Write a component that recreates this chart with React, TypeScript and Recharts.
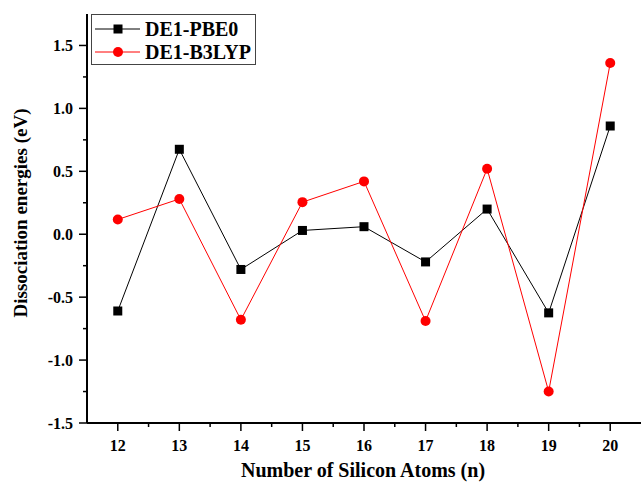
import React from "react";
import { LineChart, Line, XAxis, YAxis, Legend, Label } from "recharts";

const nAtoms = [12, 13, 14, 15, 16, 17, 18, 19, 20];
const de1PBE0 = [-0.61, 0.675, -0.28, 0.03, 0.06, -0.22, 0.2, -0.625, 0.86];
const de1B3LYP = [0.117, 0.28, -0.68, 0.255, 0.42, -0.69, 0.52, -1.25, 1.36];
const xTicks = [12, 12.5, 13, 13.5, 14, 14.5, 15, 15.5, 16, 16.5, 17, 17.5, 18, 18.5, 19, 19.5, 20];
const yTicks = [-1.5, -1.25, -1.0, -0.75, -0.5, -0.25, 0, 0.25, 0.5, 0.75, 1.0, 1.25, 1.5];
const seriesNames = ["DE1-PBE0", "DE1-B3LYP"];
const xTitle = "Number of Silicon Atoms (n)";
const yTitle = "Dissociation energies (eV)";

const data = nAtoms.map((n, i) => ({ n, pbe0: de1PBE0[i], b3lyp: de1B3LYP[i] }));

const FONT = '"Liberation Serif", "Times New Roman", serif';
const W = 641;
const H = 484;
const AXIS_X = 87;
const AXIS_Y = 423;
const TOP = 14;

const XTick = (props: any) => {
  const { x, payload } = props;
  const v = payload.value;
  const major = Number.isInteger(v);
  return (
    <g>
      <line x1={x} x2={x} y1={AXIS_Y} y2={AXIS_Y + (major ? 8 : 4)} stroke="#000" strokeWidth={1.5} />
      {major && (
        <text x={x} y={445} textAnchor="middle" dominantBaseline="central" fontFamily={FONT} fontWeight="bold" fontSize={16} fill="#000">
          {v}
        </text>
      )}
    </g>
  );
};

const YTick = (props: any) => {
  const { y, payload } = props;
  const v = payload.value;
  const major = Math.abs(v * 2 - Math.round(v * 2)) < 1e-9;
  return (
    <g>
      <line x1={AXIS_X - (major ? 8 : 4)} x2={AXIS_X} y1={y} y2={y} stroke="#000" strokeWidth={1.5} />
      {major && (
        <text x={73} y={y} textAnchor="end" dominantBaseline="central" fontFamily={FONT} fontWeight="bold" fontSize={16} fill="#000">
          {v.toFixed(1)}
        </text>
      )}
    </g>
  );
};

const SquareDot = (props: any) => {
  const { cx, cy, index } = props;
  if (cx == null || cy == null) return <g key={`s${index}`} />;
  return <rect key={`s${index}`} x={cx - 4.5} y={cy - 4.5} width={9} height={9} fill="#000" />;
};

const CircleDot = (props: any) => {
  const { cx, cy, index } = props;
  if (cx == null || cy == null) return <g key={`c${index}`} />;
  return <circle key={`c${index}`} cx={cx} cy={cy} r={5} fill="#ff0000" />;
};

const LegendContent = () => (
  <div
    style={{
      border: "1px solid #444",
      background: "#fff",
      width: 163,
      height: 49,
      position: "relative",
      fontFamily: FONT,
      fontWeight: "bold",
      fontSize: 20,
      color: "#000",
    }}
  >
    {seriesNames.map((name, i) => (
      <div key={name} style={{ position: "absolute", left: 0, top: i === 0 ? 3 : 26, height: 22, display: "flex", alignItems: "center", whiteSpace: "nowrap" }}>
        <svg width={53} height={22} style={{ display: "block" }}>
          <line x1={3} x2={48} y1={11} y2={11} stroke={i === 0 ? "#000" : "#ff0000"} strokeWidth={1} />
          {i === 0 ? <rect x={21.5} y={6.5} width={9} height={9} fill="#000" /> : <circle cx={26} cy={11} r={5} fill="#ff0000" />}
        </svg>
        <span style={{ lineHeight: "22px" }}>{name}</span>
      </div>
    ))}
  </div>
);

export default function App() {
  return (
    <div style={{ position: "absolute", left: 0, top: 0, width: W, height: H, background: "#fff" }}>
      <LineChart width={W} height={H} data={data} margin={{ top: TOP, right: 0, left: 0, bottom: 0 }}>
        <XAxis
          dataKey="n"
          type="number"
          domain={[11.5, 20.5]}
          ticks={xTicks}
          interval={0}
          height={H - AXIS_Y}
          axisLine={{ stroke: "#000", strokeWidth: 2 }}
          tickLine={false}
          tick={<XTick />}
          allowDecimals
        >
          <Label
            content={() => (
              <text x={363} y={470} textAnchor="middle" dominantBaseline="central" fontFamily={FONT} fontWeight="bold" fontSize={20} fill="#000">
                {xTitle}
              </text>
            )}
          />
        </XAxis>
        <YAxis
          type="number"
          domain={[-1.5, 1.75]}
          ticks={yTicks}
          interval={0}
          width={AXIS_X}
          axisLine={{ stroke: "#000", strokeWidth: 2 }}
          tickLine={false}
          tick={<YTick />}
          allowDataOverflow
        >
          <Label
            content={() => (
              <text
                x={20}
                y={213}
                transform="rotate(-90 20 213)"
                textAnchor="middle"
                dominantBaseline="central"
                fontFamily={FONT}
                fontWeight="bold"
                fontSize={19}
                fill="#000"
              >
                {yTitle}
              </text>
            )}
          />
        </YAxis>
        <Legend
          layout="vertical"
          align="center"
          verticalAlign="middle"
          content={<LegendContent />}
          wrapperStyle={{ position: "absolute", top: 14, left: 91, width: 165, height: 51 }}
        />
        <Line
          dataKey="pbe0"
          name={seriesNames[0]}
          stroke="#000"
          strokeWidth={1}
          dot={SquareDot}
          activeDot={false}
          isAnimationActive={false}
        />
        <Line
          dataKey="b3lyp"
          name={seriesNames[1]}
          stroke="#ff0000"
          strokeWidth={1}
          dot={CircleDot}
          activeDot={false}
          isAnimationActive={false}
        />
      </LineChart>
    </div>
  );
}
